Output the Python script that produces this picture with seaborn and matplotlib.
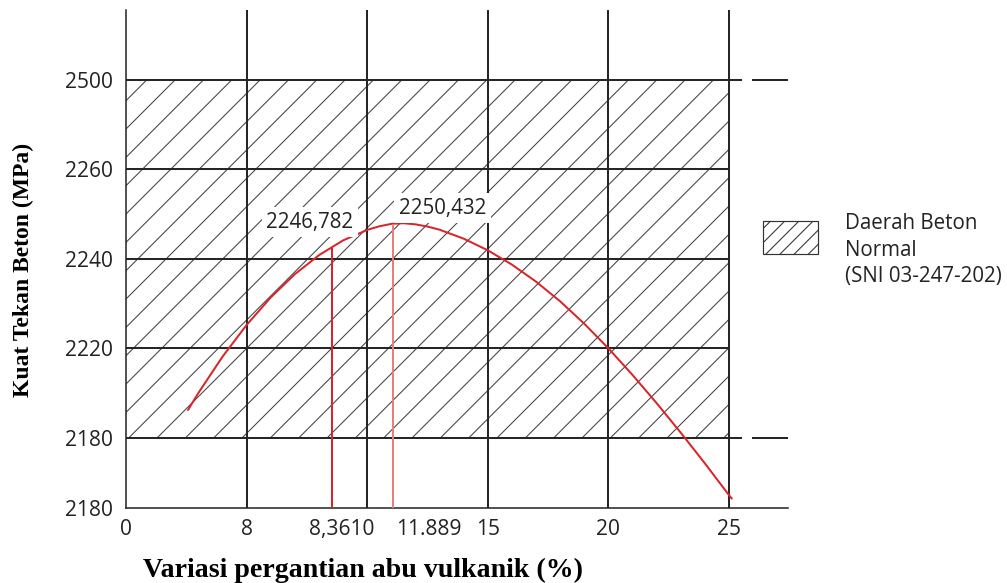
import numpy as np
import pandas as pd
import matplotlib
matplotlib.use('Agg')
import matplotlib.pyplot as plt
import seaborn as sns
from matplotlib.patches import Patch, Rectangle
from matplotlib.legend_handler import HandlerPatch

# Data kurva
abu_vulkanik = [2.57, 3, 4, 5, 6, 7, 8, 9, 10, 10.5, 11, 11.5, 12, 12.5, 13, 14, 15,
                16, 17, 18, 19, 20, 21, 22, 23, 24, 25, 25.12]
kuat_tekan = [2206.2, 2210.0, 2218.1, 2225.2, 2231.35, 2236.55, 2240.8, 2244.1, 2246.45,
              2247.25, 2247.8, 2247.95, 2247.7, 2247.2, 2246.5, 2244.5, 2241.9, 2238.7,
              2234.9, 2230.5, 2225.5, 2220.0, 2214.05, 2207.75, 2201.15, 2194.3, 2187.2,
              2186.4]

# Garis merah vertikal
garis_x = [8.54, 11.07]
garis_atas = [2242.6, 2247.8]

# Label nilai
label_teks = ['2246,782', '2250,432']
label_x = [7.63, 13.14]
label_y = [2248.2, 2251.3]

# Tick (label asli dari grafik)
xtick_pos = [0, 5, 8.95, 12.55, 15, 20, 25]
xtick_lab = ['0', '8', '8,3610', '11.889', '15', '20', '25']
ytick_pos = [2184.4, 2200, 2220, 2240, 2260, 2280]
ytick_lab = ['2180', '2180', '2220', '2240', '2260', '2500']

# Grid dan daerah beton normal
grid_x = [5, 10, 15, 20, 25]
grid_y = [2220, 2240, 2260]
batas_normal = [2200, 2280]
x_normal = [0, 25]

df = pd.DataFrame({'abu': abu_vulkanik, 'kuat': kuat_tekan})

sns.set_theme(style='white')
plt.rcParams['font.family'] = ['Open Sans', 'DejaVu Sans']
plt.rcParams['hatch.linewidth'] = 0.45
plt.rcParams['hatch.color'] = '#444444'

DPI = 170
fig = plt.figure(figsize=(1007 / DPI, 583 / DPI), dpi=DPI)
ax = fig.add_axes([126 / 1007, 75 / 583, 662 / 1007, 498 / 583])

xlim = (0, 27.45)
ylim = (2184.3, 2295.6)
ax.set_xlim(*xlim)
ax.set_ylim(*ylim)

# daerah arsir
ax.fill_between(x_normal, batas_normal[0], batas_normal[1], facecolor='none',
                edgecolor='#444444', hatch='//', linewidth=0, zorder=1)

lc = '#262626'
ax.vlines(grid_x, ylim[0], ylim[1], colors=lc, linewidth=0.85, zorder=2)
ax.hlines(grid_y, x_normal[0], x_normal[1], colors=lc, linewidth=0.85, zorder=2)
ax.hlines(batas_normal, 0, 25.54, colors=lc, linewidth=0.85, zorder=2)
ax.hlines(batas_normal, 25.95, 27.45, colors=lc, linewidth=0.85, zorder=2)

# kurva
sns.lineplot(data=df, x='abu', y='kuat', color='#d9252a', linewidth=0.85, ax=ax, zorder=3)
ax.vlines(garis_x, ylim[0], garis_atas, colors=['#d7262b', '#ea7d80'], linewidth=0.85, zorder=3)

for t, x, y in zip(label_teks, label_x, label_y):
    ax.text(x, y, t, ha='center', va='center', fontsize=8.7, color='#222222', zorder=5,
            bbox=dict(facecolor='white', edgecolor='none', pad=2))

ax.set_xticks(xtick_pos)
ax.set_xticklabels(xtick_lab)
ax.set_yticks(ytick_pos)
ax.set_yticklabels(ytick_lab)
ax.tick_params(axis='both', length=0, labelsize=8.9, colors='#222222')
ax.tick_params(axis='x', pad=4.5)
ax.tick_params(axis='y', pad=5.5)

for s in ['top', 'right']:
    ax.spines[s].set_visible(False)
for s in ['left', 'bottom']:
    ax.spines[s].set_color('#222222')
    ax.spines[s].set_linewidth(0.65)

ax.set_xlabel('Variasi pergantian abu vulkanik (%)', family=['Liberation Serif'],
              fontweight='bold', fontsize=11.8, ha='left', va='baseline', color='black')
ax.xaxis.set_label_coords(17 / 662, -69 / 498)
ax.set_ylabel('Kuat Tekan Beton (MPa)', family=['Liberation Serif'],
              fontweight='bold', fontsize=10, color='black')
ax.yaxis.set_label_coords(-92 / 662, 238 / 498)


# kotak legenda digeser ke atas (sejajar baris pertama teks)
def kotak_legenda(legend, orig_handle, xdescent, ydescent, width, height, fontsize):
    return Rectangle((-xdescent, -ydescent + 5.9), width, height)


h = Patch(facecolor='white', edgecolor='#333333', hatch='////', linewidth=0.5)
leg = ax.legend(handles=[h], labels=['Daerah Beton\nNormal\n(SNI 03-247-202)'],
                loc='upper left', bbox_to_anchor=(763 / 1007, 1 - 213 / 583),
                bbox_transform=fig.transFigure, frameon=False, fontsize=8.7,
                handlelength=2.7, handleheight=2.1, handletextpad=1.3,
                borderpad=0, borderaxespad=0, labelcolor='#222222',
                handler_map={Patch: HandlerPatch(patch_func=kotak_legenda)})
leg.get_texts()[0].set_linespacing(1.35)

fig.savefig('out.png', dpi=DPI)
